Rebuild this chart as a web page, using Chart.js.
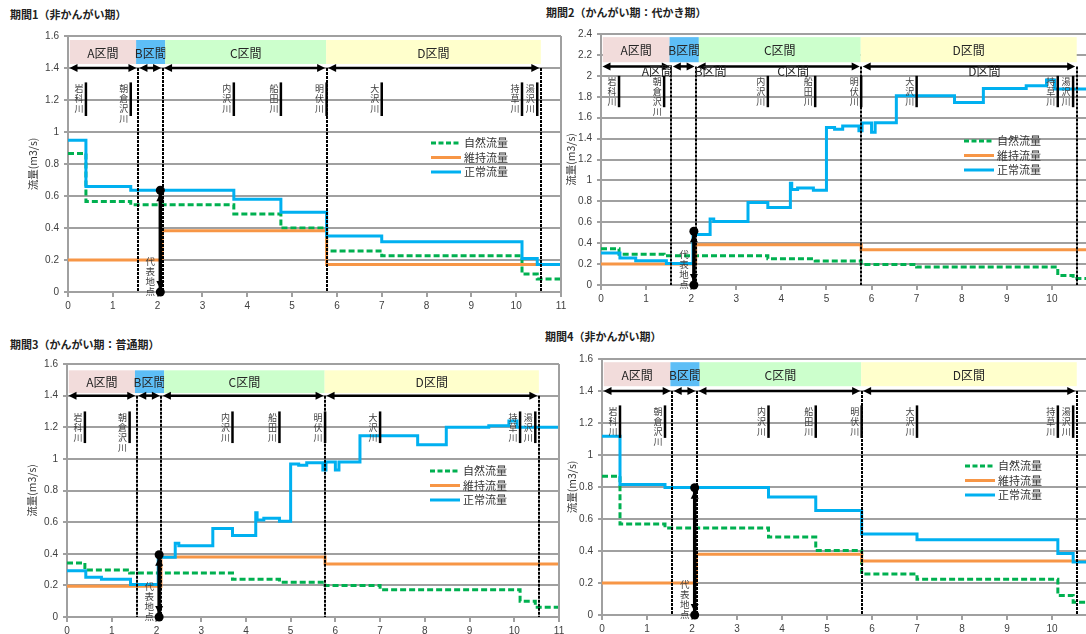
<!DOCTYPE html>
<html>
<head>
<meta charset="utf-8">
<script src="https://cdn.jsdelivr.net/npm/chart.js@4/dist/chart.umd.min.js"></script>
<style>
  html, body { margin: 0; padding: 0; background: #fff; }
  body { width: 1086px; height: 634px; overflow: hidden; position: relative; }
  .panel { position: absolute; }
  .ttl { position: absolute; font: bold 11px "Noto Sans CJK JP"; color: #222; white-space: nowrap; line-height: 1; }
</style>
</head>
<body>
<div class="ttl" style="left:10px;top:9px">期間1（非かんがい期）</div>
<div class="ttl" style="left:546px;top:7px">期間2（かんがい期：代かき期）</div>
<div class="ttl" style="left:10px;top:339px">期間3（かんがい期：普通期）</div>
<div class="ttl" style="left:545px;top:331px">期間4（非かんがい期）</div>
<div class="panel" id="p1"></div>
<div class="panel" id="p2"></div>
<div class="panel" id="p3"></div>
<div class="panel" id="p4"></div>
<script>
// ---- axis ticks ----
const X_MAX = 11;
const xTickValues = [0, 1, 2, 3, 4, 5, 6, 7, 8, 9, 10, 11];
const xTickLabels = ['0', '1', '2', '3', '4', '5', '6', '7', '8', '9', '10', '11'];
const yTicks16 = [0, 0.2, 0.4, 0.6, 0.8, 1, 1.2, 1.4, 1.6];
const yTickLabels16 = ['0', '0.2', '0.4', '0.6', '0.8', '1', '1.2', '1.4', '1.6'];
const yTicks24 = [0, 0.2, 0.4, 0.6, 0.8, 1, 1.2, 1.4, 1.6, 1.8, 2, 2.2, 2.4];
const yTickLabels24 = ['0', '0.2', '0.4', '0.6', '0.8', '1', '1.2', '1.4', '1.6', '1.8', '2', '2.2', '2.4'];

// ---- reach breakpoints (km): tributary confluences ----
const reachX = [0, 0.4, 1.4, 3.7, 4.75, 5.77, 7.0, 10.13, 10.47];
const maintX = [0, 2.1, 5.77];

// ---- 期間1 ----
const p1Natural = [0.866, 0.565, 0.545, 0.487, 0.40, 0.257, 0.226, 0.113, 0.082];
const p1Maint = [0.20, 0.383, 0.172];
const p1Normal = [0.949, 0.659, 0.636, 0.58, 0.498, 0.35, 0.314, 0.21, 0.172];
const p1Rep = 0.636;

// ---- 期間2 ----
const p2Natural = [0.346, 0.295, 0.279, 0.25, 0.229, 0.197, 0.171, 0.092, 0.063];
const p2Maint = [0.20, 0.384, 0.338];
const p2NormalX = [0, 0.42, 0.77, 1.45, 2.04, 2.42, 2.5, 3.26, 3.7, 4.2, 4.23, 4.36, 4.71, 5.0, 5.18, 5.36, 5.72, 5.79, 6.0, 6.08, 6.55, 7.84, 8.48, 9.43, 9.88, 10.06];
const p2Normal = [0.305, 0.257, 0.232, 0.206, 0.483, 0.63, 0.607, 0.788, 0.74, 0.974, 0.914, 0.927, 0.905, 1.507, 1.49, 1.52, 1.476, 1.55, 1.46, 1.552, 1.81, 1.746, 1.88, 1.905, 1.96, 1.873];
const p2Rep = 0.514;

// ---- 期間3 ----
const p3Natural = [0.342, 0.297, 0.278, 0.238, 0.22, 0.20, 0.172, 0.10, 0.062];
const p3Maint = [0.194, 0.38, 0.335];
const p3NormalX = [0, 0.42, 0.77, 1.42, 2.04, 2.42, 2.5, 3.26, 3.7, 4.22, 4.25, 4.4, 4.75, 5.0, 5.18, 5.36, 5.72, 5.79, 6.0, 6.08, 6.55, 7.84, 8.48, 9.43, 9.88, 10.06];
const p3Normal = [0.293, 0.251, 0.238, 0.205, 0.378, 0.466, 0.45, 0.559, 0.515, 0.66, 0.614, 0.625, 0.606, 0.968, 0.96, 0.975, 0.93, 0.98, 0.93, 0.98, 1.146, 1.09, 1.2, 1.21, 1.24, 1.2];
const p3Rep = 0.394;

// ---- 期間4 ----
const p4Natural = [0.867, 0.568, 0.543, 0.487, 0.403, 0.257, 0.224, 0.122, 0.08];
const p4Maint = [0.20, 0.38, 0.338];
const p4Normal = [1.117, 0.815, 0.797, 0.737, 0.653, 0.507, 0.47, 0.385, 0.332];
const p4Rep = 0.795;

// ---- sections and tributaries ----
const sectionNames = ['A区間', 'B区間', 'C区間', 'D区間'];
const sectionEdges = [0, 1.56, 2.11, 5.77, 10.55];
const bandEdges = [0.04, 1.52, 2.17, 5.76, 10.55];
const bandColors = ['#F2DCDB', '#5DBEF6', '#CCFFCC', '#FFFFCC'];
const subLabelX = [1.25, 2.43, 4.26, 8.5];
const tribNames = ['岩科川', '朝倉沢川', '内沢川', '船田川', '明伏川', '大沢川', '持草川', '湯沢川'];
const tribX = [0.4, 1.4, 3.7, 4.75, 5.77, 7.0, 10.13, 10.47];
const repX = 2.06;
const repLabel = '代表地点';
const legendNames = ['自然流量', '維持流量', '正常流量'];
const yTitle = '流量(m3/s)';

// ---- styles ----
const GREEN = '#00B050', ORANGE = '#F79646', BLUE = '#00B0F0', GRID = '#a0a0a0';
const JP = '"Noto Sans CJK JP"';
Chart.defaults.font.family = '"Liberation Sans", Arial, sans-serif';

function steps(xs, ys) {
  const pts = ys.map((v, i) => ({ x: xs[i], y: v }));
  pts.push({ x: X_MAX, y: ys[ys.length - 1] });
  return pts;
}

function vText(ctx, str, cx, firstCy, step) {
  [...str].forEach((ch, i) => ctx.fillText(ch, cx, firstCy + i * step));
}

function arrowHead(ctx, tx, ty, dx, dy) {
  // filled triangle with its tip at (tx, ty) pointing along (dx, dy)
  const L = 8, W = 4;
  ctx.beginPath();
  ctx.moveTo(tx, ty);
  ctx.lineTo(tx - dx * L - dy * W, ty - dy * L - dx * W);
  ctx.lineTo(tx - dx * L + dy * W, ty - dy * L + dx * W);
  ctx.closePath();
  ctx.fill();
}

const decoPlugin = {
  id: 'deco',
  beforeDatasetsDraw(chart, args, o) {
    const { ctx } = chart;
    const px = v => chart.scales.x.getPixelForValue(v);
    const py = v => chart.scales.y.getPixelForValue(v);
    ctx.save();
    const yt = py(o.band[1]), yb = py(o.band[0]);
    ctx.font = '12px ' + JP;
    ctx.textAlign = 'center';
    ctx.textBaseline = 'middle';
    for (let i = 0; i < 4; i++) {
      const x0 = px(bandEdges[i]), x1 = px(bandEdges[i + 1]);
      ctx.fillStyle = bandColors[i];
      ctx.fillRect(x0, yt, x1 - x0, yb - yt);
      ctx.fillStyle = '#262626';
      ctx.fillText(sectionNames[i], (x0 + x1) / 2, (yt + yb) / 2 + 1);
    }
    ctx.restore();
  },
  afterDatasetsDraw(chart, args, o) {
    const { ctx, chartArea: a } = chart;
    const px = v => chart.scales.x.getPixelForValue(v);
    const py = v => chart.scales.y.getPixelForValue(v);
    ctx.save();

    // plot frame, right side
    ctx.strokeStyle = GRID;
    ctx.lineWidth = 2;
    ctx.beginPath();
    ctx.moveTo(a.right, a.top);
    ctx.lineTo(a.right, a.bottom);
    ctx.stroke();

    // section boundaries (dotted)
    const ay = py(o.arrowY);
    ctx.strokeStyle = '#000';
    ctx.lineWidth = 2;
    ctx.setLineDash([3, 1]);
    for (let i = 1; i < sectionEdges.length; i++) {
      const x = Math.round(px(sectionEdges[i]));
      ctx.beginPath();
      ctx.moveTo(x, ay);
      ctx.lineTo(x, a.bottom);
      ctx.stroke();
    }
    ctx.setLineDash([]);

    // section extent arrows
    ctx.lineWidth = 2.5;
    ctx.fillStyle = '#000';
    for (let i = 0; i < 4; i++) {
      const x0 = px(sectionEdges[i]) + 1.5, x1 = px(sectionEdges[i + 1]) - 1.5;
      ctx.beginPath();
      ctx.moveTo(x0 + 4, ay);
      ctx.lineTo(x1 - 4, ay);
      ctx.stroke();
      arrowHead(ctx, x0, ay, -1, 0);
      arrowHead(ctx, x1, ay, 1, 0);
    }

    // extra section captions under the arrows
    if (o.subLabelY !== undefined) {
      ctx.font = '12px ' + JP;
      ctx.fillStyle = '#262626';
      ctx.textAlign = 'center';
      ctx.textBaseline = 'middle';
      sectionNames.forEach((s, i) => ctx.fillText(s, px(subLabelX[i]), py(o.subLabelY)));
    }

    // tributaries
    const t0 = py(o.trib[1]), t1 = py(o.trib[0]);
    ctx.lineWidth = 2.5;
    ctx.strokeStyle = '#000';
    ctx.font = '9px ' + JP;
    ctx.fillStyle = '#404040';
    ctx.textAlign = 'center';
    ctx.textBaseline = 'middle';
    tribX.forEach((tx, i) => {
      const x = px(tx);
      ctx.beginPath();
      ctx.moveTo(x, t0);
      ctx.lineTo(x, t1);
      ctx.stroke();
      vText(ctx, tribNames[i], x - 7, t0 + 6, 10);
    });

    // representative point
    const rx = px(repX), r0 = py(0), r1 = py(o.rep);
    ctx.lineWidth = 3.5;
    ctx.beginPath();
    ctx.moveTo(rx, r0);
    ctx.lineTo(rx, r1);
    ctx.stroke();
    ctx.fillStyle = '#000';
    arrowHead(ctx, rx, r1 + 3, 0, -1);
    arrowHead(ctx, rx, r0 - 3, 0, 1);
    ctx.beginPath(); ctx.arc(rx, r0, 4.5, 0, Math.PI * 2); ctx.fill();
    ctx.beginPath(); ctx.arc(rx, r1, 4.5, 0, Math.PI * 2); ctx.fill();
    ctx.font = '9.5px ' + JP;
    ctx.fillStyle = '#404040';
    vText(ctx, repLabel, rx - 10, a.bottom - 31, 10);

    // legend
    const lx = a.left + 363;
    const styles = [
      { c: GREEN, d: [5, 2.5] },
      { c: ORANGE, d: [] },
      { c: BLUE, d: [] }
    ];
    ctx.font = '11px ' + JP;
    ctx.textAlign = 'left';
    legendNames.forEach((n, i) => {
      const ly = a.top + 107 + i * 14.5;
      ctx.strokeStyle = styles[i].c;
      ctx.lineWidth = 3;
      ctx.setLineDash(styles[i].d);
      ctx.beginPath();
      ctx.moveTo(lx, ly);
      ctx.lineTo(lx + 30, ly);
      ctx.stroke();
      ctx.setLineDash([]);
      ctx.fillStyle = '#333';
      ctx.fillText(n, lx + 33, ly);
    });

    // y-axis title
    ctx.translate(a.left + o.yTitleDx, (a.top + a.bottom) / 2);
    ctx.rotate(-Math.PI / 2);
    ctx.font = '10.5px ' + JP;
    ctx.textAlign = 'center';
    ctx.fillStyle = '#333';
    ctx.fillText(yTitle, 0, 0);
    ctx.restore();
  }
};

const Y_W = 26, X_H = 25;

function makePanel(id, box, plot, yMax, yTicks, yLabels, natural, maint, normalX, normal, deco) {
  const wrap = document.getElementById(id);
  wrap.style.left = box.left + 'px';
  wrap.style.top = box.top + 'px';
  wrap.style.width = box.w + 'px';
  wrap.style.height = box.h + 'px';
  const canvas = document.createElement('canvas');
  canvas.width = box.w;
  canvas.height = box.h;
  wrap.appendChild(canvas);

  const padding = {
    left: plot.l - box.left - Y_W,
    top: plot.t - box.top,
    right: box.left + box.w - plot.r,
    bottom: box.top + box.h - plot.b - X_H
  };

  const line = (label, data, color, order, dash) => ({
    label, data, borderColor: color, backgroundColor: color, borderWidth: 3,
    borderDash: dash, stepped: true, pointRadius: 0, fill: false, order,
    borderCapStyle: 'butt', borderJoinStyle: 'miter'
  });

  new Chart(canvas, {
    type: 'line',
    data: {
      datasets: [
        line(legendNames[0], steps(reachX, natural), GREEN, 3, [6, 3]),
        line(legendNames[1], steps(maintX, maint), ORANGE, 2, []),
        line(legendNames[2], steps(normalX, normal), BLUE, 1, [])
      ]
    },
    options: {
      responsive: false,
      animation: false,
      devicePixelRatio: 1,
      layout: { padding },
      plugins: {
        legend: { display: false },
        tooltip: { enabled: false },
        deco
      },
      scales: {
        x: {
          type: 'linear', min: 0, max: X_MAX,
          afterBuildTicks: s => { s.ticks = xTickValues.map(v => ({ value: v })); },
          afterFit: s => { s.height = X_H; },
          ticks: { callback: (v, i) => xTickLabels[i], font: { size: 10 }, color: '#404040', padding: 3, maxRotation: 0, autoSkip: false },
          grid: { display: true, drawOnChartArea: false, drawTicks: true, tickLength: 5, color: GRID, lineWidth: 2 },
          border: { display: true, color: GRID, width: 2 }
        },
        y: {
          type: 'linear', min: 0, max: yMax,
          afterBuildTicks: s => { s.ticks = yTicks.map(v => ({ value: v })); },
          afterFit: s => { s.width = Y_W; },
          ticks: { callback: (v, i) => yLabels[i], font: { size: 10 }, color: '#404040', padding: 5, autoSkip: false },
          grid: { display: true, drawTicks: true, tickLength: 4, color: GRID, lineWidth: 2 },
          border: { display: true, color: GRID, width: 2 }
        }
      }
    },
    plugins: [decoPlugin]
  });
}

makePanel('p1', { left: 0, top: 20, w: 580, h: 305 }, { l: 68, t: 36, r: 561, b: 292 },
  1.6, yTicks16, yTickLabels16, p1Natural, p1Maint, reachX, p1Normal,
  { arrowY: 1.4, band: [1.425, 1.575], trib: [1.10, 1.31], rep: p1Rep, yTitleDx: -35 });

makePanel('p2', { left: 560, top: 20, w: 560, h: 305 }, { l: 601, t: 34, r: 1097, b: 285 },
  2.4, yTicks24, yTickLabels24, p2Natural, p2Maint, p2NormalX, p2Normal,
  { arrowY: 2.09, band: [2.13, 2.37], trib: [1.70, 2.0], rep: p2Rep, yTitleDx: -30, subLabelY: 2.04 });

makePanel('p3', { left: 0, top: 345, w: 580, h: 310 }, { l: 67, t: 364, r: 559, b: 617 },
  1.6, yTicks16, yTickLabels16, p3Natural, p3Maint, p3NormalX, p3Normal,
  { arrowY: 1.4, band: [1.416, 1.56], trib: [1.10, 1.30], rep: p3Rep, yTitleDx: -35 });

makePanel('p4', { left: 560, top: 345, w: 560, h: 310 }, { l: 602, t: 359, r: 1097, b: 615 },
  1.6, yTicks16, yTickLabels16, p4Natural, p4Maint, reachX, p4Normal,
  { arrowY: 1.4, band: [1.43, 1.58], trib: [1.107, 1.31], rep: p4Rep, yTitleDx: -30 });
</script>
</body>
</html>
